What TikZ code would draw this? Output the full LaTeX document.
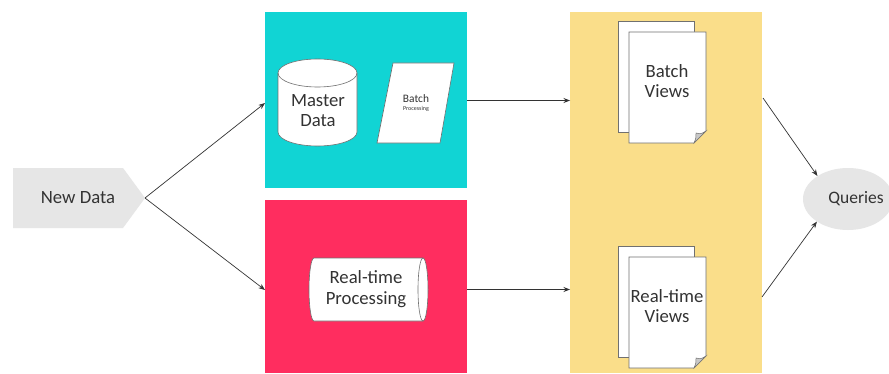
\documentclass[tikz,border=0pt]{standalone}
\usepackage{fontspec}
\setmainfont{Carlito}
\usetikzlibrary{shapes.geometric,arrows.meta,calc}
\definecolor{cyanbox}{HTML}{11D4D4}
\definecolor{redbox}{HTML}{FF2D5F}
\definecolor{yellowbox}{HTML}{FADE8A}
\definecolor{greyfill}{HTML}{E6E6E6}
\definecolor{inkgray}{HTML}{333333}
\definecolor{edgegray}{HTML}{707070}
\definecolor{foldgray}{HTML}{C8C8C8}
\begin{document}
\begin{tikzpicture}[x=1pt,y=1pt,
  layerbox/.style={rectangle, inner sep=0, outer sep=0, draw=none},
  conn/.style={draw=inkgray, line width=0.7pt, -{Stealth[length=6.5pt,width=5pt]}},
  shapeline/.style={draw=edgegray, line width=0.6pt, fill=white},
  lbl/.style={text=inkgray, align=center, inner sep=0, font=\fontsize{18.7}{20}\selectfont},
  docstack/.pic={
    \path[shapeline] (-11,11) rectangle (65,122);
    \path[shapeline] (0,0) -- (0,111) -- (77,111) -- (77,12) -- (65,0) -- cycle;
    \path[draw=edgegray, fill=foldgray, line width=0.5pt] (65,0) .. controls (67,5) .. (67,10) .. controls (72,9) .. (77,12) -- cycle;
  }
]
\useasboundingbox (0,0) rectangle (889,373);
\fill[white] (0,0) rectangle (889,373);

% layers
\node[layerbox, fill=cyanbox, minimum width=202, minimum height=176] (batchlayer) at (366,273) {};
\node[layerbox, fill=redbox, minimum width=202, minimum height=173] (rtlayer) at (366,86.5) {};
\node[layerbox, fill=yellowbox, minimum width=192, minimum height=361] (servlayer) at (666,180.5) {};

% New Data
\path[fill=greyfill] (13,205) -- (123,205) -- (145,175) -- (123,145) -- (13,145) -- cycle;
\coordinate (ndtip) at (145,175);
\node[lbl] (newdata) at (78,175) {New Data};

% Master Data cylinder
\path[shapeline] (278,300) -- (278,241) arc (180:360:39.5 and 14) -- (357,300) arc (0:180:39.5 and 14) -- cycle;
\draw[draw=edgegray, line width=0.6pt] (278,300) arc (180:360:39.5 and 14);
\node[lbl] (master) at (318,262) {Master\\Data};

% Batch Processing parallelogram
\path[shapeline] (393,310) -- (454,310) -- (440,230) -- (377,230) -- cycle;
\node[text=inkgray, inner sep=0, font=\fontsize{11.4}{13}\selectfont] (batchword) at (416,274) {Batch};
\node[text=inkgray, inner sep=0, font=\fontsize{6}{7}\selectfont] (procword) at (416,264) {Processing};

% Real-time Processing cylinder
\path[shapeline] (314,115) -- (423,115) arc (90:-90:5 and 31.5) -- (314,52) arc (270:90:5 and 31.5) -- cycle;
\draw[draw=edgegray, line width=0.6pt] (423,115) arc (90:270:5 and 31.5);
\node[lbl, font=\fontsize{18.7}{21}\selectfont] (rtproc) at (366,84) {Real-time\\Processing};

% document stacks
\pic at (629,230) {docstack};
\node[lbl] (bviews) at (667,292) {Batch\\Views};
\pic at (629,5) {docstack};
\node[lbl] (rtviews) at (667,67) {Real-time\\Views};

% Queries
\node[ellipse, fill=greyfill, minimum width=90, minimum height=62, inner sep=0] (queries) at (848,174) {};
\node[lbl, font=\fontsize{17.5}{18}\selectfont] (qtext) at (856,174) {Queries};

% connectors
\coordinate (toBatch) at (265,270);
\coordinate (toRt) at (265,83);
\draw[conn] (ndtip) -- (toBatch);
\draw[conn] (ndtip) -- (toRt);
\draw[conn] ([yshift=-0.5]batchlayer.east) -- ([yshift=-0.5]batchlayer.east -| servlayer.west);
\draw[conn] ([yshift=-3]rtlayer.east) -- ([yshift=-3]rtlayer.east -| servlayer.west);
\coordinate (fromBv) at (763,275);
\coordinate (fromRv) at (762,76);
\draw[conn] (fromBv) -- (queries.143);
\draw[conn] (fromRv) -- (queries.216);
\end{tikzpicture}
\end{document}
